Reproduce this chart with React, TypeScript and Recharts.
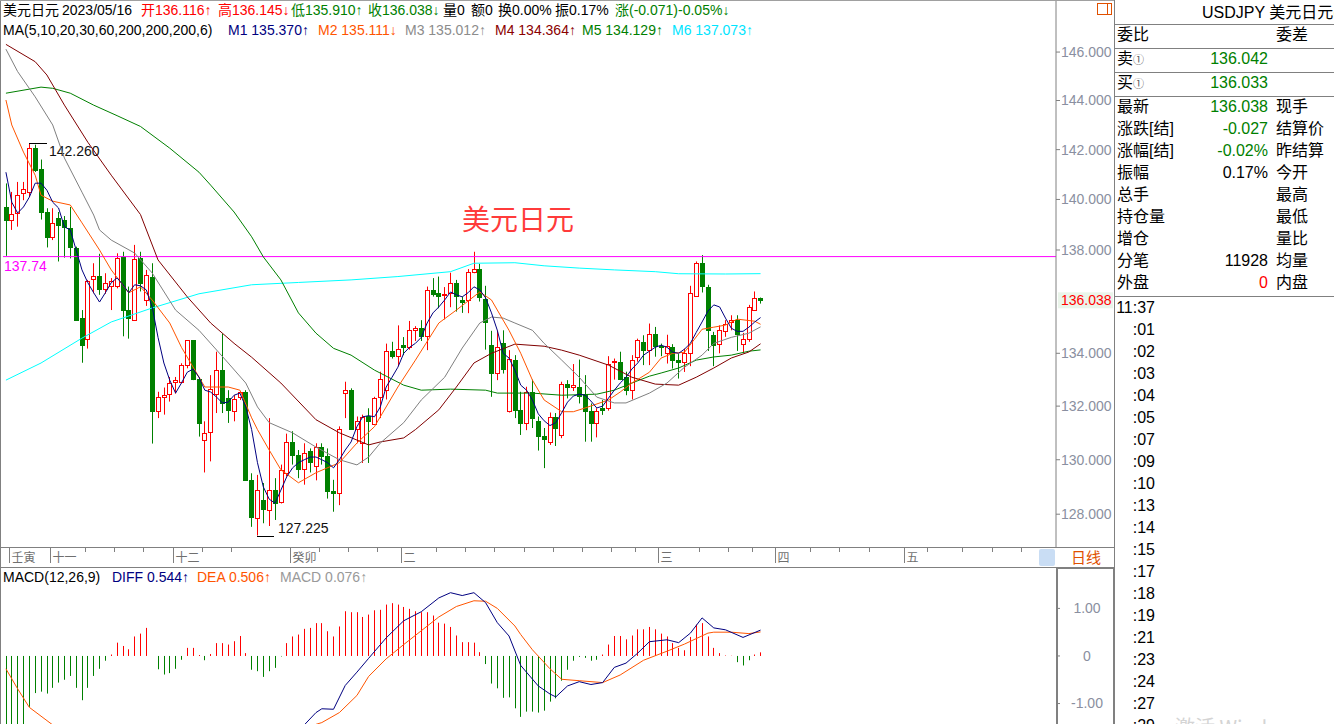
import React from 'react'
import { ComposedChart, Bar, Line, XAxis, YAxis, ReferenceLine } from 'recharts'

const FONT = '"Liberation Sans", Arial, "Noto Sans CJK SC", sans-serif'
const CJK = '"Noto Sans CJK SC", "Liberation Sans", sans-serif'

const UP = '#ff0000'
const DOWN = '#008000'
const AXIS_TEXT = '#8a8fa0'

// 130 daily candles shown, the rest of the 180 slots are future days
const SLOTS = 180

const OPEN = [
  139.71, 139.2, 139.45, 140.24, 140.3, 142.05, 141.2, 139.5, 138.53, 139.25,
  139.18, 138.85, 138.07, 135.34, 134.53, 136.85, 136.98, 136.47, 136.6, 136.6,
  137.74, 135.66, 135.27, 137.67, 136.03, 136.96, 131.8, 132.36, 132.45, 132.9,
  132.92, 133.55, 134.5, 133.04, 130.75, 131.02, 132.47, 133.36, 132.29, 131.83,
  132.36, 132.54, 129.26, 127.85, 128.53, 128.17, 128.88, 128.45, 129.51, 130.67,
  130.18, 129.66, 130.31, 129.76, 130.48, 130.12, 128.86, 128.78, 132.5, 132.62,
  131.15, 130.63, 131.63, 131.34, 132.33, 132.62, 134.09, 133.89, 134.31, 134.24,
  134.88, 134.95, 134.65, 136.44, 136.31, 136.24, 136.31, 136.7, 136.05, 136.05,
  137.15, 137.25, 136.08, 134.31, 133.26, 134.38, 131.8, 133.74, 131.86, 131.37,
  132.54, 131.43, 130.88, 130.66, 131.61, 130.92, 132.85, 132.72, 132.72, 132.45,
  131.8, 131.37, 131.92, 131.92, 133.66, 133.68, 133.11, 132.6, 133.84, 134.44,
  134.12, 134.75, 134.29, 134.02, 134.25, 133.76, 133.68, 134.01, 136.2, 137.48,
  136.57, 134.69, 134.35, 134.86, 135.2, 135.27, 134.37, 134.56, 135.68, 136.116,
]
const HIGH = [
  140.64, 140.3, 140.7, 140.7, 142.26, 142.2, 141.6, 139.65, 139.65, 139.5,
  139.34, 139.7, 138.13, 135.66, 136.83, 137.48, 137.85, 137.09, 136.9, 137.87,
  137.93, 136.57, 138.2, 137.93, 137.22, 137.48, 132.54, 132.7, 133.1, 133.1,
  133.62, 134.5, 134.5, 133.1, 131.43, 133.17, 134.06, 134.75, 132.6, 132.41,
  132.57, 132.6, 129.5, 129.44, 129.14, 131.55, 129.32, 129.82, 130.97, 131.06,
  130.36, 130.61, 130.42, 130.61, 130.61, 130.42, 129.26, 131.24, 132.92, 132.67,
  131.61, 131.68, 131.92, 132.35, 133.3, 134.37, 134.44, 135.07, 134.62, 135.24,
  135.04, 135.27, 136.57, 136.9, 136.96, 136.55, 137.11, 136.83, 136.18, 137.25,
  137.93, 137.46, 136.6, 134.86, 134.88, 134.88, 134.12, 133.93, 132.54, 132.73,
  133.0, 131.61, 131.18, 131.76, 131.74, 132.92, 132.98, 133.59, 133.76, 133.17,
  132.1, 131.92, 132.23, 133.89, 133.8, 134.06, 133.3, 133.93, 134.56, 134.69,
  135.14, 135.01, 134.37, 134.71, 134.35, 133.97, 134.18, 136.6, 137.55, 137.8,
  136.64, 134.82, 135.07, 135.27, 135.46, 135.46, 134.78, 135.86, 136.38, 136.145,
]
const LOW = [
  137.77, 138.79, 138.92, 139.97, 140.1, 141.1, 139.2, 138.1, 138.39, 137.55,
  137.7, 137.67, 135.24, 133.64, 134.18, 136.31, 136.25, 136.29, 135.66, 136.5,
  134.65, 134.56, 135.24, 136.38, 135.82, 130.6, 131.55, 131.68, 132.17, 132.47,
  132.86, 133.43, 132.98, 130.86, 129.53, 129.94, 131.74, 131.74, 131.37, 131.43,
  132.23, 129.24, 127.54, 127.225, 127.67, 127.57, 127.79, 128.39, 129.38, 129.82,
  129.32, 129.08, 129.53, 129.24, 129.82, 128.57, 128.09, 128.33, 131.55, 131.12,
  130.61, 129.88, 129.88, 131.31, 131.55, 132.25, 133.8, 133.51, 133.93, 134.14,
  134.47, 134.47, 134.12, 136.18, 135.73, 135.3, 135.77, 135.6, 135.55, 135.54,
  137.09, 135.99, 134.14, 132.35, 132.98, 133.23, 131.76, 131.55, 130.92, 131.1,
  131.18, 130.34, 129.69, 130.55, 130.51, 130.8, 132.29, 132.57, 132.1, 130.67,
  130.67, 130.83, 131.67, 131.83, 133.0, 132.98, 132.41, 132.25, 133.68, 133.55,
  133.55, 133.87, 133.89, 133.61, 133.42, 133.04, 133.29, 133.51, 136.18, 136.34,
  134.09, 133.51, 134.0, 134.63, 134.88, 134.09, 134.0, 134.44, 135.65, 135.91,
]
const CLOSE = [
  139.2, 139.42, 140.16, 140.4, 142.05, 141.17, 139.51, 138.53, 139.05, 138.98,
  138.92, 138.1, 135.27, 134.3, 136.8, 136.98, 136.47, 136.7, 136.8, 137.7,
  135.66, 135.37, 137.65, 136.7, 137.03, 131.8, 132.36, 132.4, 132.88, 132.98,
  133.55, 134.5, 133.04, 131.37, 131.0, 132.66, 133.36, 132.1, 131.86, 132.25,
  132.54, 129.26, 127.91, 128.88, 128.2, 128.88, 128.41, 129.63, 130.67, 130.18,
  129.65, 130.24, 129.9, 130.46, 130.12, 128.86, 128.78, 131.15, 132.62, 131.15,
  131.43, 131.59, 131.46, 132.29, 133.04, 134.09, 133.89, 134.18, 134.24, 134.9,
  134.95, 134.65, 136.44, 136.28, 136.2, 136.28, 136.72, 136.2, 135.98, 137.15,
  137.25, 136.16, 135.2, 133.26, 134.25, 133.42, 133.8, 131.86, 131.37, 132.54,
  131.55, 130.88, 130.76, 131.59, 131.18, 132.85, 132.72, 132.79, 132.38, 131.83,
  131.37, 131.8, 131.86, 133.61, 133.72, 133.04, 132.6, 133.76, 134.52, 134.12,
  134.75, 134.29, 134.24, 134.27, 133.76, 133.68, 134.0, 136.31, 137.48, 136.6,
  134.88, 134.31, 134.88, 135.14, 135.27, 134.75, 134.56, 135.76, 136.12, 136.038,
]

// MA5, one value per candle
const M1 = [
  141.09, 139.89, 139.46, 139.7, 140.09, 140.65, 140.65, 140.37, 139.89, 139.66,
  138.91, 138.79, 138.0, 137.22, 136.72, 136.33, 135.97, 136.33, 136.72, 136.91,
  136.64, 136.33, 136.64, 136.6, 136.44, 135.78, 134.61, 133.63, 132.98, 132.49,
  132.87, 133.28, 133.4, 133.09, 132.6, 132.53, 132.34, 132.12, 132.15, 132.41,
  132.49, 131.97, 131.12, 129.89, 129.0, 128.55, 128.4, 128.88, 129.37, 129.7,
  129.89, 130.0, 130.1, 130.1, 130.0, 129.89, 129.7, 130.0, 130.36, 130.66,
  131.23, 131.6, 131.64, 131.6, 131.97, 132.72, 133.09, 133.47, 134.0, 134.23,
  134.38, 134.61, 135.16, 135.55, 135.78, 136.05, 136.36, 136.25, 136.17, 136.33,
  136.56, 136.44, 136.13, 135.55, 134.88, 134.0, 133.82, 133.36, 132.79, 132.6,
  132.23, 131.71, 131.45, 131.27, 131.38, 131.75, 132.15, 132.38, 132.45, 132.41,
  132.19, 131.93, 132.0, 132.3, 132.6, 132.87, 133.09, 133.4, 133.63, 133.93,
  134.08, 134.23, 134.31, 134.23, 134.04, 134.0, 134.16, 134.38, 134.8, 135.2,
  135.62, 135.86, 135.78, 135.35, 134.96, 134.84, 134.84, 135.0, 135.2, 135.37,
]

// slower averages, read at [candle index, value]
const M2_POINTS: [number, number][] = [
  [0, 144.02], [1, 143.0], [3, 141.9], [5, 140.97], [6, 140.17], [8, 139.93], [11, 139.78],
  [13, 139.07], [16, 138.0], [18, 137.22], [21, 136.33], [23, 136.56], [25, 136.05], [28, 135.16],
  [30, 134.23], [34, 132.72], [38, 132.72], [40, 132.6], [42, 131.56], [43, 131.12], [45, 130.36],
  [47, 129.63], [50, 129.15], [53, 129.52], [57, 129.89], [60, 130.62], [63, 131.23], [67, 132.72],
  [70, 133.74], [74, 135.16], [77, 135.66], [81, 136.36], [83, 136.05], [86, 134.88], [88, 134.0],
  [90, 132.98], [92, 132.23], [95, 131.79], [97, 131.79], [99, 131.93], [103, 132.23], [105, 132.53],
  [107, 132.87], [110, 133.28], [112, 133.82], [114, 134.0], [116, 134.04], [119, 134.92], [121, 135.0],
  [123, 135.08], [125, 135.31], [128, 135.23], [129, 135.111],
]
const M3_POINTS: [number, number][] = [
  [0, 146.12], [2, 145.19], [5, 144.15], [8, 143.0], [10, 141.66], [13, 140.29], [15, 139.38],
  [16, 138.79], [18, 138.39], [22, 137.88], [25, 137.1], [29, 135.66], [33, 134.88], [38, 133.63],
  [41, 132.87], [43, 131.97], [45, 131.38], [49, 131.0], [53, 130.47], [57, 130.0], [60, 129.81],
  [62, 130.1], [64, 130.62], [68, 131.38], [71, 132.23], [75, 133.09], [78, 134.2], [81, 135.16],
  [83, 135.39], [85, 135.35], [87, 135.16], [90, 134.88], [92, 134.38], [95, 133.74], [98, 133.09],
  [101, 132.34], [104, 132.12], [106, 132.12], [110, 132.49], [113, 132.87], [116, 133.47],
  [119, 133.93], [121, 134.38], [124, 134.61], [127, 134.77], [129, 135.012],
]
const M4_POINTS: [number, number][] = [
  [0, 146.32], [5, 145.6], [7, 145.05], [10, 143.81], [14, 142.3], [18, 140.97], [23, 139.4],
  [26, 137.61], [31, 136.17], [35, 135.16], [39, 134.38], [42, 133.85], [47, 132.87], [53, 131.49],
  [57, 131.0], [60, 130.73], [62, 130.55], [64, 130.66], [68, 130.81], [70, 131.12], [74, 131.86],
  [77, 132.72], [80, 133.63], [83, 134.0], [87, 134.35], [92, 134.27], [95, 134.12], [98, 133.93],
  [103, 133.55], [107, 133.09], [111, 132.83], [115, 132.79], [118, 133.09], [121, 133.44],
  [124, 133.82], [127, 134.05], [129, 134.364],
]
const M5_POINTS: [number, number][] = [
  [0, 144.3], [6, 144.55], [8, 144.5], [11, 144.3], [15, 143.81], [19, 143.38], [23, 142.94],
  [28, 142.06], [33, 141.09], [35, 140.57], [39, 139.5], [42, 138.52], [44, 137.73], [47, 136.83],
  [50, 135.55], [53, 134.77], [56, 134.19], [59, 133.93], [63, 133.36], [68, 132.79], [71, 132.6],
  [76, 132.64], [82, 132.6], [84, 132.49], [90, 132.49], [95, 132.41], [101, 132.45], [104, 132.6],
  [107, 132.87], [110, 133.13], [112, 133.25], [115, 133.44], [118, 133.74], [121, 133.86],
  [124, 133.93], [127, 134.08], [129, 134.129],
]
const M6_POINTS: [number, number][] = [
  [0, 132.98], [6, 133.63], [13, 134.58], [18, 135.2], [25, 135.74], [33, 136.29], [42, 136.64],
  [50, 136.73], [59, 136.83], [67, 136.96], [76, 137.15], [80, 137.48], [87, 137.5], [92, 137.38],
  [98, 137.29], [104, 137.22], [111, 137.15], [115, 137.07], [123, 137.06], [129, 137.073],
]

// MACD(12,26,9) histogram, one value per candle
const MACD_HIST = [
  -2.8, -2.4, -2.0, -1.6, -1.07, -0.78, -0.75, -0.79, -0.67, -0.56,
  -0.5, -0.42, -0.67, -0.93, -0.67, -0.42, -0.27, -0.1, 0.03, 0.28,
  0.21, 0.14, 0.41, 0.47, 0.59, 0.0, -0.28, -0.39, -0.36, -0.27,
  -0.08, 0.17, 0.17, 0.02, -0.09, 0.04, 0.27, 0.27, 0.24, 0.31,
  0.42, 0.06, -0.29, -0.32, -0.44, -0.32, -0.25, -0.01, 0.27, 0.41,
  0.45, 0.57, 0.59, 0.69, 0.69, 0.52, 0.41, 0.62, 0.94, 0.92,
  0.92, 0.82, 0.87, 0.96, 0.97, 1.08, 1.11, 1.08, 1.03, 0.99,
  0.94, 0.92, 0.92, 0.85, 0.7, 0.68, 0.61, 0.43, 0.29, 0.29,
  0.28, 0.08, -0.17, -0.58, -0.68, -0.88, -0.87, -1.1, -1.28, -1.17,
  -1.17, -1.19, -1.15, -0.96, -0.89, -0.52, -0.29, -0.1, -0.02, -0.04,
  -0.1, -0.08, 0.03, 0.24, 0.42, 0.42, 0.35, 0.43, 0.56, 0.56,
  0.61, 0.56, 0.47, 0.41, 0.27, 0.17, 0.12, 0.4, 0.66, 0.69,
  0.41, 0.17, 0.06, 0.01, 0.005, -0.13, -0.2, -0.09, 0.03, 0.076,
]
const DIFF_POINTS: [number, number][] = [
  [49, -1.75], [51, -1.45], [53, -1.19], [54, -1.11], [56, -1.12], [58, -0.62], [60, -0.34],
  [62, -0.05], [65, 0.38], [68, 0.74], [71, 0.93], [74, 1.22], [76, 1.33], [78, 1.27], [80, 1.33],
  [82, 1.12], [84, 0.7], [86, 0.42], [88, -0.2], [91, -0.63], [93, -0.8], [94, -0.86], [96, -0.63],
  [98, -0.54], [100, -0.6], [102, -0.56], [104, -0.24], [106, -0.15], [108, 0.06], [110, 0.3],
  [113, 0.34], [115, 0.28], [117, 0.48], [119, 0.8], [121, 0.59], [123, 0.55], [126, 0.39], [129, 0.544],
]
const DEA_POINTS: [number, number][] = [
  [0, -0.27], [2, -0.69], [4, -1.08], [8, -1.45], [16, -1.8], [26, -1.9], [36, -1.85], [46, -1.7],
  [54, -1.4], [57, -1.19], [60, -0.83], [62, -0.43], [65, -0.06], [68, 0.24], [71, 0.53], [74, 0.82],
  [77, 1.04], [80, 1.16], [82, 1.15], [84, 1.0], [87, 0.63], [88, 0.45], [90, 0.13], [93, -0.27],
  [95, -0.49], [98, -0.52], [102, -0.56], [105, -0.4], [109, -0.09], [113, 0.1], [116, 0.25],
  [120, 0.48], [121, 0.5], [124, 0.5], [127, 0.47], [129, 0.506],
]

// 136 is left out: the last-price tag sits on it
const PRICE_TICKS = [128, 130, 132, 134, 138, 140, 142, 144, 146]
const MACD_TICKS = [-1, 0, 1]
const WEEK_TICKS = [
  1, 8, 14, 19, 24, 29, 34, 39, 49, 54, 59, 64, 68, 74, 79, 84, 89, 94, 99, 104, 108, 112,
  119, 124, 128, 132, 138, 143, 148, 154, 158, 164, 169, 174,
]
const MONTH_TICKS = [1, 8, 29, 49, 68, 112, 132, 154]
const MONTH_NAMES = ['壬寅', '十一', '十二', '癸卯', '二', '三', '四', '五']
const RESISTANCE = 137.74

const toMap = (pts: [number, number][]) => new Map(pts.map(([i, v]) => [i, v]))
const m2Map = toMap(M2_POINTS)
const m3Map = toMap(M3_POINTS)
const m4Map = toMap(M4_POINTS)
const m5Map = toMap(M5_POINTS)
const m6Map = toMap(M6_POINTS)
const diffMap = toMap(DIFF_POINTS)
const deaMap = toMap(DEA_POINTS)
const monthMap = new Map(MONTH_TICKS.map((t, i) => [t, MONTH_NAMES[i]]))

const rows = Array.from({ length: SLOTS }, (_, i) => {
  const has = i < OPEN.length
  return {
    idx: i,
    open: has ? OPEN[i] : null,
    high: has ? HIGH[i] : null,
    low: has ? LOW[i] : null,
    close: has ? CLOSE[i] : null,
    range: has ? [LOW[i], HIGH[i]] : null,
    m1: has ? M1[i] : null,
    m2: m2Map.get(i) ?? null,
    m3: m3Map.get(i) ?? null,
    m4: m4Map.get(i) ?? null,
    m5: m5Map.get(i) ?? null,
    m6: m6Map.get(i) ?? null,
    hist: has ? MACD_HIST[i] : null,
    diff: diffMap.get(i) ?? null,
    dea: deaMap.get(i) ?? null,
  }
})

const HIGH_MARK = HIGH.indexOf(Math.max(...HIGH))
const LOW_MARK = LOW.indexOf(Math.min(...LOW))
const LAST_CLOSE = CLOSE[CLOSE.length - 1]

const Candle = (props: any) => {
  const { x, y, width, height, payload } = props
  if (!payload || payload.open == null || !isFinite(y) || !isFinite(height)) return <g />
  const cx = Math.floor(x + width / 2)
  const top = Math.min(y, y + height)
  const bottom = Math.max(y, y + height)
  const lh = Math.log(payload.high)
  const ll = Math.log(payload.low)
  // position inside the high-low span, log scale like the axis
  const toY = (p: number) => top + ((lh - Math.log(p)) / (lh - ll)) * (bottom - top)
  const up = payload.close >= payload.open
  const bt = Math.round(toY(Math.max(payload.open, payload.close)))
  const bb = Math.max(Math.round(toY(Math.min(payload.open, payload.close))), bt + 1)
  const wx = cx + 0.5
  return (
    <g>
      {up ? (
        <>
          <line x1={wx} x2={wx} y1={top} y2={bt} stroke={UP} />
          <line x1={wx} x2={wx} y1={bb} y2={bottom} stroke={UP} />
          <rect x={cx - 1.5} y={bt + 0.5} width={4} height={bb - bt} fill="#fff" stroke={UP} />
        </>
      ) : (
        <>
          <line x1={wx} x2={wx} y1={top} y2={bottom} stroke={DOWN} />
          <rect x={cx - 2} y={bt} width={5} height={bb - bt + 1} fill={DOWN} />
        </>
      )}
      {payload.idx === HIGH_MARK && (
        <>
          <line x1={cx} x2={cx + 18} y1={Math.round(top) + 0.5} y2={Math.round(top) + 0.5} stroke="#000" />
          <text x={cx + 20} y={top + 13} fontSize={14} fill="#111" fontFamily={FONT}>
            {payload.high.toFixed(3)}
          </text>
        </>
      )}
      {payload.idx === LOW_MARK && (
        <>
          <line x1={cx} x2={cx + 17} y1={Math.round(bottom) + 0.5} y2={Math.round(bottom) + 0.5} stroke="#000" />
          <text x={cx + 21} y={bottom - 3} fontSize={14} fill="#111" fontFamily={FONT}>
            {payload.low.toFixed(3)}
          </text>
        </>
      )}
    </g>
  )
}

const HistBar = (props: any) => {
  const { x, y, width, height, payload } = props
  if (!payload || payload.hist == null || !isFinite(y) || !isFinite(height)) return <g />
  const lx = Math.floor(x + width / 2) + 0.5
  return (
    <line
      x1={lx}
      x2={lx}
      y1={y}
      y2={y + height}
      stroke={payload.hist >= 0 ? UP : DOWN}
    />
  )
}

const XTick = (props: any) => {
  const { x, y, payload } = props
  const lx = Math.round(x - 3) + 0.5
  const label = monthMap.get(payload.value)
  return (
    <g>
      <line x1={lx} x2={lx} y1={y} y2={y + (label ? 16 : 5)} stroke="#808080" />
      {label && (
        <text x={lx + 2} y={y + 15} fontSize={12} fill="#6f6f6f" fontFamily={CJK}>
          {label}
        </text>
      )}
    </g>
  )
}

const PriceTick = (props: any) => (
  <text x={props.x} y={props.y} dy="0.35em" fontSize={14} fill={AXIS_TEXT} fontFamily={FONT}>
    {props.payload.value.toFixed(3)}
  </text>
)

const MacdTick = (props: any) => {
  const v = props.payload.value
  return (
    <text x={props.x + 26} y={props.y} dy="0.35em" fontSize={14} fill={AXIS_TEXT} textAnchor="middle" fontFamily={FONT}>
      {v === 0 ? '0' : v.toFixed(2)}
    </text>
  )
}

const ResistanceLabel = (props: any) => {
  const vb = props.viewBox || {}
  return (
    <text x={vb.x + 1} y={vb.y + 14} fontSize={14} fill="#ff00ff" fontFamily={FONT}>
      {RESISTANCE.toFixed(2)}
    </text>
  )
}

const PriceTag = (props: any) => {
  const vb = props.viewBox || {}
  const left = vb.x + vb.width + 2
  return (
    <g>
      <rect x={left} y={vb.y - 8} width={55} height={16} fill="#eaf5ea" />
      <text x={left + 3} y={vb.y} dy="0.35em" fontSize={14} fill="#ff0000" fontFamily={FONT}>
        {LAST_CLOSE.toFixed(3)}
      </text>
    </g>
  )
}

const abs = (left: number, top: number, extra: React.CSSProperties = {}): React.CSSProperties => ({
  position: 'absolute',
  left,
  top,
  whiteSpace: 'nowrap',
  ...extra,
})

const HEAD_1: [number, [string, string][]][] = [
  [3, [['美元日元', '#000']]],
  [62, [['2023/05/16', '#000']]],
  [141, [['开136.116↑', '#ff0000']]],
  [218, [['高136.145↓', '#ff0000']]],
  [291, [['低135.910↑', '#008000']]],
  [368, [['收136.038↓', '#008000']]],
  [443, [['量0', '#000']]],
  [471, [['额0', '#000']]],
  [498, [['换0.00%', '#000']]],
  [555, [['振0.17%', '#000']]],
  [615, [['涨(-0.071)-0.05%↓', '#008000']]],
]
const HEAD_2: [number, string, string][] = [
  [3, 'MA(5,10,20,30,60,200,200,200,6)', '#000'],
  [228, 'M1 135.370↑', '#000080'],
  [318, 'M2 135.111↓', '#ff5500'],
  [405, 'M3 135.012↑', '#8c8c8c'],
  [495, 'M4 134.364↑', '#8b0000'],
  [582, 'M5 134.129↑', '#008000'],
  [672, 'M6 137.073↑', '#00e5ff'],
]
const MACD_HEAD: [number, string, string][] = [
  [3, 'MACD(12,26,9)', '#000'],
  [112, 'DIFF 0.544↑', '#000080'],
  [197, 'DEA 0.506↑', '#ff5500'],
  [280, 'MACD 0.076↑', '#999'],
]

const QUOTE_ROWS: [string, string, string, string][] = [
  ['最新', '136.038', '#008000', '现手'],
  ['涨跌[结]', '-0.027', '#008000', '结算价'],
  ['涨幅[结]', '-0.02%', '#008000', '昨结算'],
  ['振幅', '0.17%', '#000', '今开'],
  ['总手', '', '#000', '最高'],
  ['持仓量', '', '#000', '最低'],
  ['增仓', '', '#000', '量比'],
  ['分笔', '11928', '#000', '均量'],
  ['外盘', '0', '#ff0000', '内盘'],
]
const TIMES = ['11:37', ':01', ':02', ':03', ':04', ':05', ':07', ':09', ':10', ':13', ':14', ':15', ':17', ':18', ':19', ':21', ':23', ':24', ':27', ':29']

function RightPanel() {
  const txt = { fontSize: 16, lineHeight: '22px', fontFamily: FONT, color: '#000' }
  return (
    <>
      <div style={abs(1202, 2, txt)}>
        USDJPY 美元日元<span style={{ color: '#c04000' }}>(</span>
      </div>
      <div style={abs(1117, 24, txt)}>委比</div>
      <div style={abs(1276, 24, txt)}>委差</div>
      <div style={abs(1117, 48, txt)}>
        卖<span style={{ fontSize: 11, color: '#555' }}>①</span>
      </div>
      <div style={abs(1168, 48, { ...txt, width: 100, textAlign: 'right', color: '#008000' })}>136.042</div>
      <div style={abs(1117, 72, txt)}>
        买<span style={{ fontSize: 11, color: '#555' }}>①</span>
      </div>
      <div style={abs(1168, 72, { ...txt, width: 100, textAlign: 'right', color: '#008000' })}>136.033</div>
      {QUOTE_ROWS.map(([label, value, color, right], k) => (
        <React.Fragment key={label}>
          <div style={abs(1117, 96 + k * 22, txt)}>{label}</div>
          <div style={abs(1168, 96 + k * 22, { ...txt, width: 100, textAlign: 'right', color })}>{value}</div>
          <div style={abs(1276, 96 + k * 22, txt)}>{right}</div>
        </React.Fragment>
      ))}
      {TIMES.map((t, k) => (
        <div key={t + k} style={abs(1100, 297 + k * 22, { ...txt, width: 55, textAlign: 'right' })}>
          {t}
        </div>
      ))}
      <div style={abs(1175, 712, { fontSize: 20, color: '#d4d4d4', fontFamily: CJK })}>激活 Windows</div>
    </>
  )
}

function Frame() {
  const g = '#808080'
  return (
    <svg width={1334} height={724} style={{ position: 'absolute', left: 0, top: 0, pointerEvents: 'none' }}>
      <line x1={0.5} x2={0.5} y1={0} y2={724} stroke={g} />
      <line x1={0} x2={1115} y1={0.5} y2={0.5} stroke="#a0a0a0" />
      <line x1={0} x2={1115} y1={547.5} y2={547.5} stroke={g} />
      <line x1={0} x2={1115} y1={567.5} y2={567.5} stroke={g} />
      <line x1={1114.5} x2={1114.5} y1={0} y2={724} stroke={g} />
      {[24.5, 48.5, 72.5, 96.5, 296.5].map((yy) => (
        <line key={yy} x1={1115} x2={1334} y1={yy} y2={yy} stroke={g} />
      ))}
      <rect x={1057} y={568} width={57} height={158} fill="none" stroke={g} strokeWidth={2} />
      <rect x={1039} y={549} width={16} height={17} rx={2} fill="#c9ddf4" />
      <rect x={1097.5} y={3.5} width={14} height={11} fill="none" stroke="#e05000" />
      <line x1={1107.5} x2={1107.5} y1={3.5} y2={14.5} stroke="#e05000" />
      <text x={1086} y={563} fontSize={15} fill="#e05000" textAnchor="middle" fontFamily={CJK}>
        日线
      </text>
    </svg>
  )
}

export default function App() {
  return (
    <div
      style={{
        position: 'relative',
        width: 1334,
        height: 724,
        overflow: 'hidden',
        background: '#fff',
        fontFamily: FONT,
      }}
    >
      <style>{'body{margin:0;overflow:hidden}'}</style>

      <div style={abs(0, 0)}>
        <ComposedChart width={1115} height={567} data={rows} margin={{ top: 0, right: 0, left: 3, bottom: 0 }}>
          <XAxis
            dataKey="idx"
            ticks={WEEK_TICKS}
            interval={0}
            height={20}
            tickSize={0}
            tickMargin={0}
            tickLine={false}
            axisLine={false}
            tick={<XTick />}
          />
          <YAxis
            orientation="right"
            width={59}
            scale="log"
            domain={[126.81, 148.18]}
            allowDataOverflow
            ticks={PRICE_TICKS}
            interval={0}
            tickSize={4}
            tickMargin={1}
            tickLine={{ stroke: '#808080' }}
            axisLine={{ stroke: '#808080' }}
            tick={<PriceTick />}
          />
          <ReferenceLine y={RESISTANCE} stroke="#ff00ff" label={<ResistanceLabel />} />
          <ReferenceLine y={LAST_CLOSE} stroke="none" label={<PriceTag />} />
          <Line dataKey="m6" stroke="#00ffff" dot={false} type="linear" connectNulls isAnimationActive={false} />
          <Line dataKey="m5" stroke="#008000" dot={false} type="linear" connectNulls isAnimationActive={false} />
          <Line dataKey="m4" stroke="#800000" dot={false} type="linear" connectNulls isAnimationActive={false} />
          <Line dataKey="m3" stroke="#808080" dot={false} type="linear" connectNulls isAnimationActive={false} />
          <Bar dataKey="range" shape={<Candle />} isAnimationActive={false} />
          <Line dataKey="m2" stroke="#ff5500" dot={false} type="linear" connectNulls isAnimationActive={false} />
          <Line dataKey="m1" stroke="#000080" dot={false} type="linear" connectNulls isAnimationActive={false} />
        </ComposedChart>
      </div>

      <div style={abs(0, 567)}>
        <ComposedChart width={1115} height={157} data={rows} margin={{ top: 0, right: 0, left: 3, bottom: 0 }}>
          <XAxis dataKey="idx" hide />
          <YAxis
            orientation="right"
            width={59}
            domain={[-1.43, 1.87]}
            allowDataOverflow
            ticks={MACD_TICKS}
            interval={0}
            tickSize={4}
            tickMargin={1}
            tickLine={{ stroke: '#808080' }}
            axisLine={false}
            tick={<MacdTick />}
          />
          <Bar dataKey="hist" shape={<HistBar />} isAnimationActive={false} />
          <Line dataKey="dea" stroke="#ff5500" dot={false} type="linear" connectNulls isAnimationActive={false} />
          <Line dataKey="diff" stroke="#000080" dot={false} type="linear" connectNulls isAnimationActive={false} />
        </ComposedChart>
      </div>

      <Frame />

      {HEAD_1.map(([x, parts]) => (
        <div key={x} style={abs(x, 2, { fontSize: 14, lineHeight: '16px' })}>
          {parts.map(([t, c]) => (
            <span key={t} style={{ color: c }}>
              {t}
            </span>
          ))}
        </div>
      ))}
      {HEAD_2.map(([x, t, c]) => (
        <div key={x} style={abs(x, 22, { fontSize: 14, lineHeight: '16px', color: c })}>
          {t}
        </div>
      ))}
      {MACD_HEAD.map(([x, t, c]) => (
        <div key={x} style={abs(x, 569, { fontSize: 14, lineHeight: '16px', color: c })}>
          {t}
        </div>
      ))}

      <div style={abs(462, 198, { fontSize: 28, lineHeight: '40px', color: '#ff3b3b', fontFamily: CJK })}>
        美元日元
      </div>

      <RightPanel />
    </div>
  )
}
